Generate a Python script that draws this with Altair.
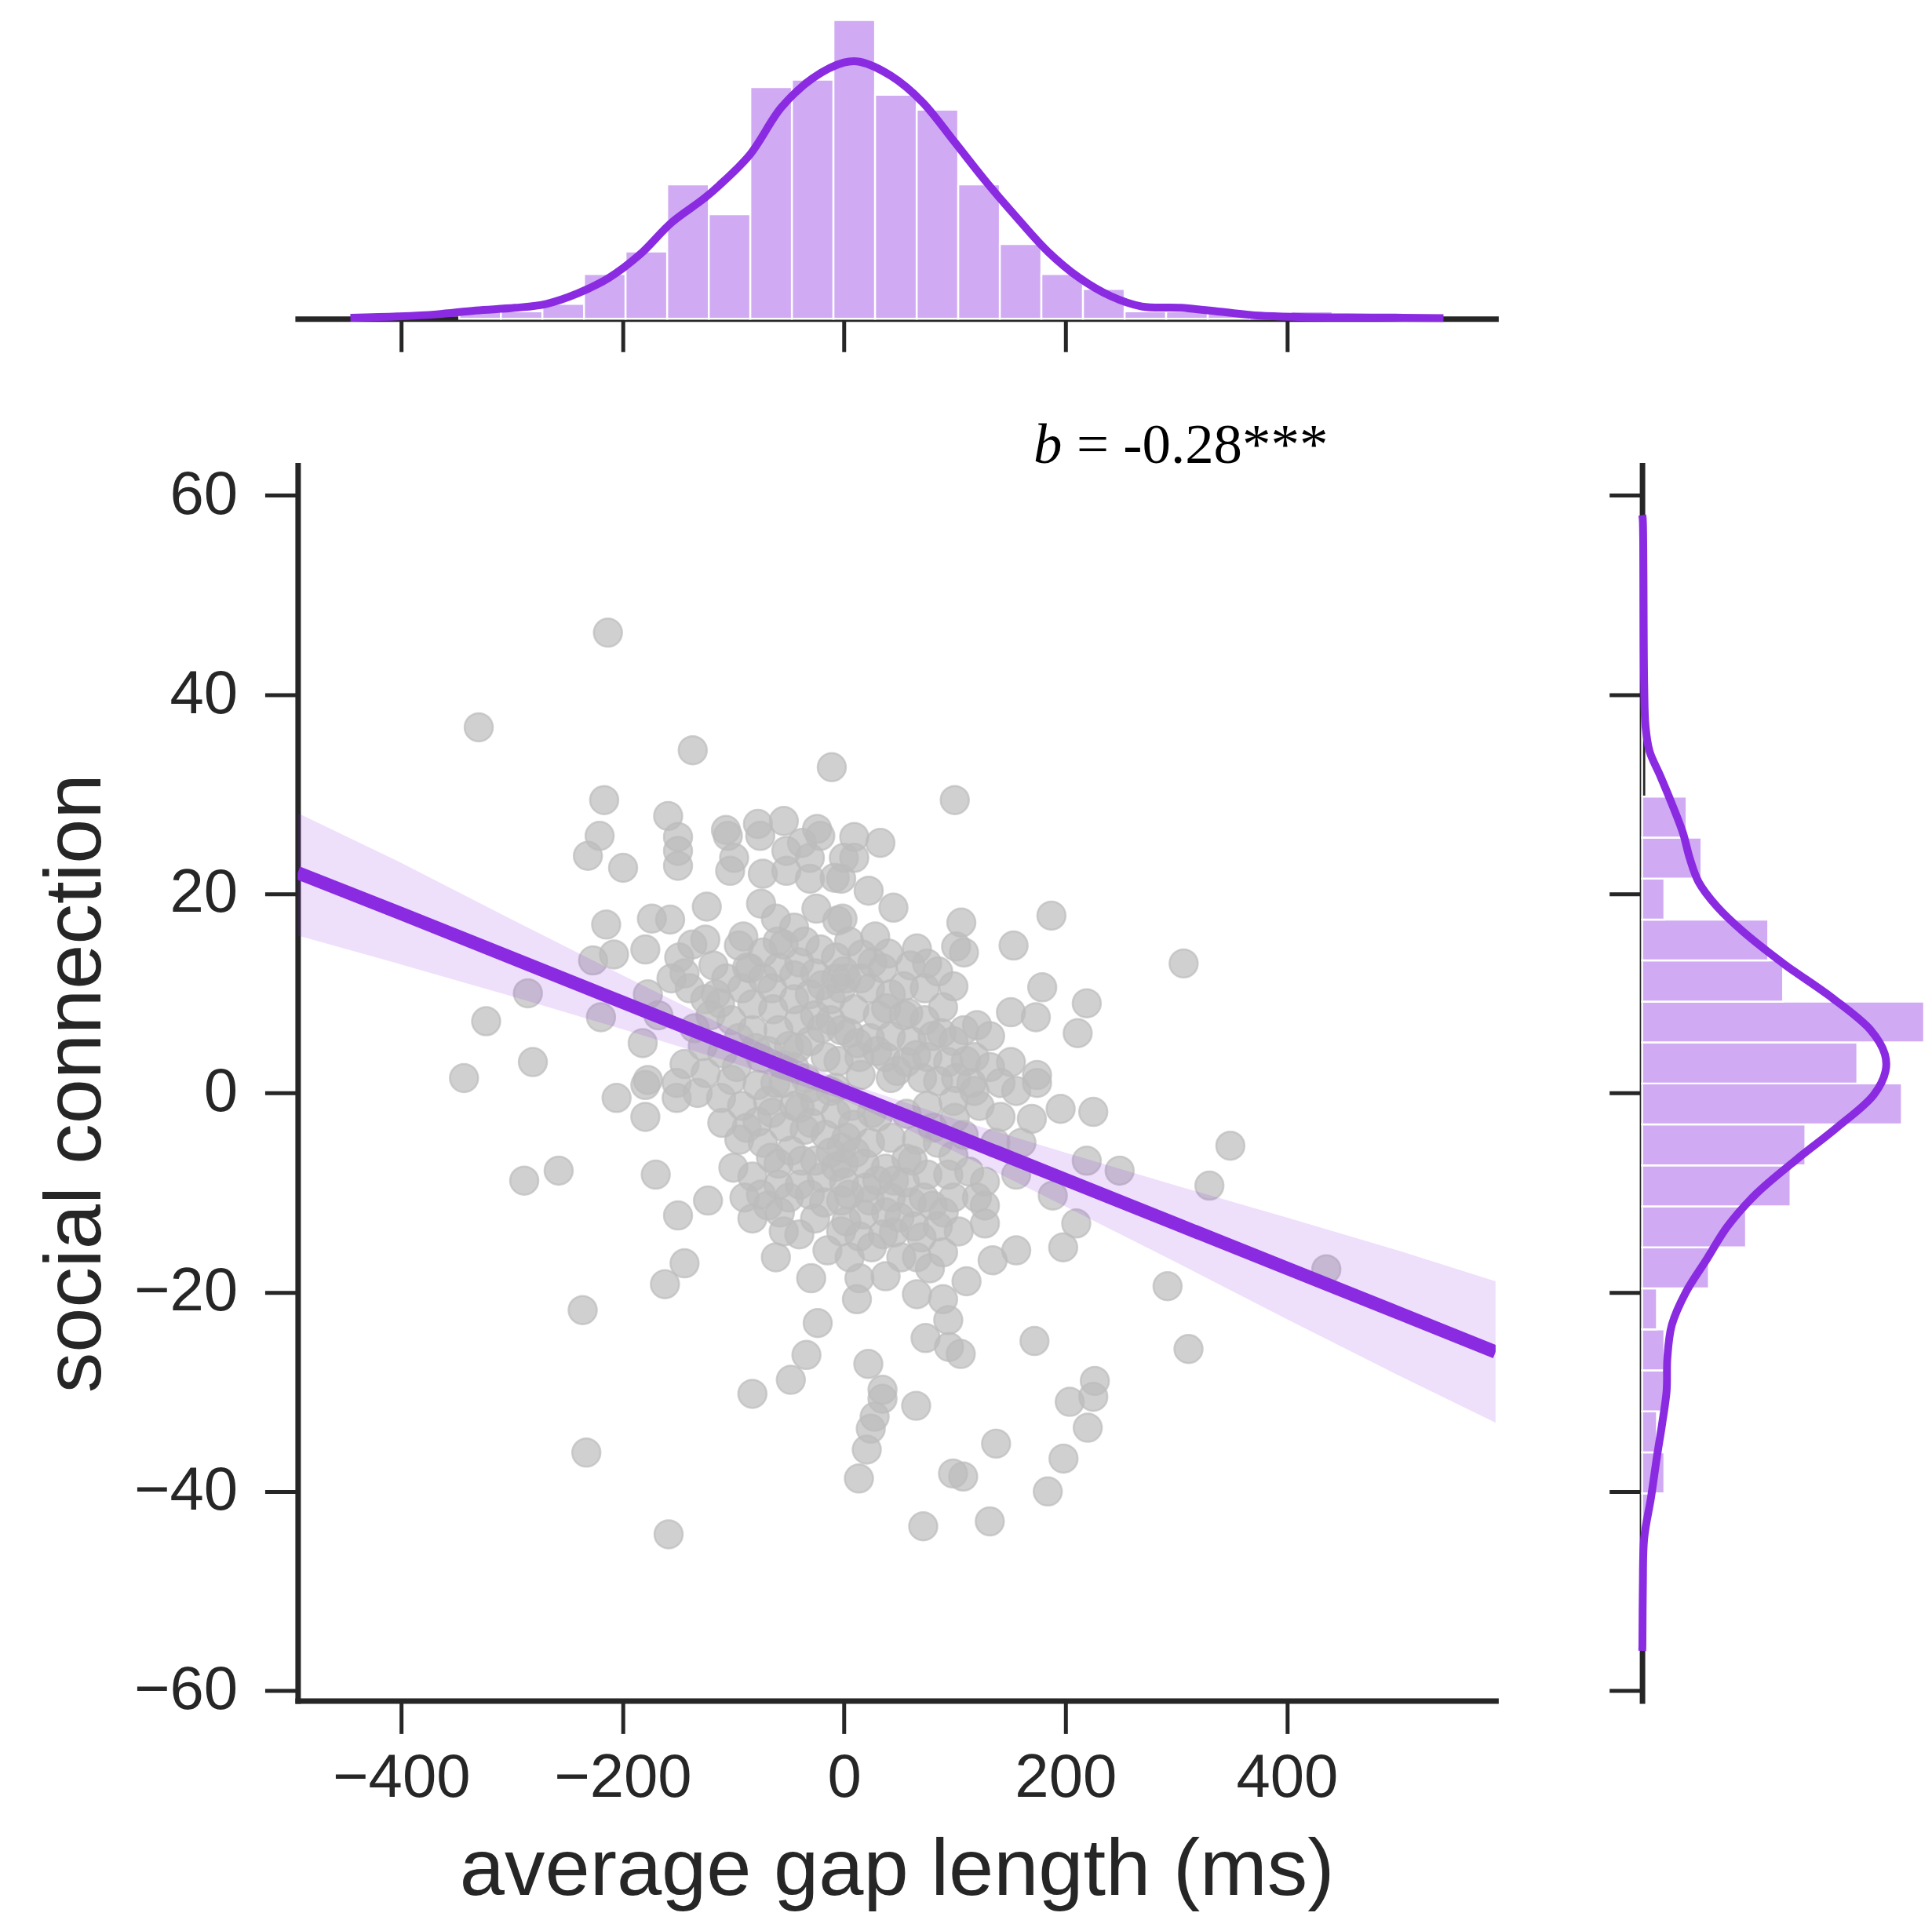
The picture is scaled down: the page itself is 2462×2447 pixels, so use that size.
import altair as alt
import pandas as pd

# ---------------- data ----------------
gap_ms = [
    -231.4, -220.8, -199.6, -150.0, -150.0, -150.0, -105.0, -99.3, -102.9, -75.7, -73.4, -52.1, -52.1,
    -38.0, -30.9, -30.9, -21.5, -8.5, -0.2, -124.0, -214.9, -173.6, -157.1, -91.0, -61.6, -45.1, -6.1,
    -179.5, -207.8, -226.7, -148.9, -125.3, -137.1,
    -144.1, -139.4, -155.9, -106.4, -87.5, -73.4, -54.5, -35.6, -21.5, -7.3, -92.2, -73.4, -59.2, -40.4,
    -26.2, -7.3, -115.8, -125.3, -82.8, -64.0, -45.1, -30.9, -12.1, -2.6, -101.7, -82.8, -59.2, -40.4,
    -26.2, -12.1, -2.6, -68.7, -49.8, -30.9, -16.7, -45.1, -177.2, -219.6, -181.9, -167.7, -144.1,
    -177.2, -97.0, -120.6, -127.6,
    9.2, 32.8, 9.2, -2.6, 22.2, 44.6, 105.9, 187.3, -1.4, 28.1, 65.8, 101.2, 108.3, 153.1, 25.7, 179.0,
    219.2, 150.7, 173.2, 211.0, 98.8, 72.9, 54.0, 89.4, 120.1, 131.9, 150.7, 174.3,
    4.5, 16.3, 2.1, 23.4, 42.2, 9.2, 30.4, 54.0, 72.9, 4.5, 23.4, 42.2, 61.1, 80.0, 98.8, 108.3, 13.9,
    37.5, 56.4, 75.3, 94.1, 117.7, 131.9, 42.2, 70.5, 101.2,
    -205.5, -179.5, -179.5, -151.2, -151.2, -132.3, -111.1, -94.6, -73.4, -82.8, -170.1, -122.9, -150.0,
    -144.1, -161.8, -82.8, -61.6, -29.7, -23.8, -236.1, -54.5, -40.4, -26.2, -68.7, -49.8, -30.9, -59.2,
    -38.0, -26.2, -7.3, -2.6, -2.6, -78.1, -54.5, -35.6, -16.7, -92.2, -68.7, -45.1, -26.2, -7.3, -101.7,
    -78.1, -54.5, -30.9, -12.1, -2.6, -59.2,
    195.6, 225.1, 169.6, 219.2, 188.5, 209.7, 197.9, 155.5, 134.2, 110.6, 94.1, 13.9, 11.6, 37.5, 65.8,
    89.4, 127.2, 127.2, 127.2, 98.8, 61.1, 89.4, 77.6, 65.8, 51.7, 35.2, 13.9, 2.1, 4.5, 23.4, 42.2, 80.0,
    98.8, 103.6, 84.7, 63.5, -0.2, 18.6, 37.5, 56.4, 75.3, 94.1, 113.0, 2.1, 23.4, 42.2, 65.8, 84.7, 6.8,
    30.4, 56.4, 75.3, 98.8, 122.4, 141.3, 155.5, 174.3, 141.3, 117.7, 160.2, 155.5, 136.6,
    -213.3, -330.0, -136.7, -11.1, 100.0, -216.7, -158.9, -77.8, -54.4, -24.4, -106.7,
    -343.3, -323.3, -281.1, -285.6, -288.9, -257.8,
    306.7, 348.9, 330.0, 435.6, 292.2, 311.1, 248.9,
    -232.8, -158.5, -82.8, -48.1, -34.0, 13.4, 20.5, 24.1, 27.6, 34.7, 34.7, 21.9, 65.1, 71.5, 98.4,
    107.6, 131.6, 137.3, 172.0, 184.0, 198.2, 203.8, 220.1, 225.1, 226.5, 73.6, 94.8, 105.4,
    -85.0, -65.0, -45.0, -20.0, 0.0, 15.0, 35.0, 60.0, 85.0,
    -95.0, -75.0, -55.0, -35.0, -20.0, -5.0, 15.0, 30.0, 48.0, 65.0, 85.0, 110.0,
    -88.0, -66.0, -48.0, -30.0, -12.0, 8.0, 25.0, 45.0, 62.0, 80.0, 108.0, 120.0,
    -75.0, -58.0, -40.0, -18.0, 0.0, 18.0, 30.0, 50.0, 70.0, 90.0,
    -15.0, 5.0, 25.0, 45.0, -110.0, -118.0, -95.0, -60.0,
    -110.0, -100.0, -90.0, -65.0, -40.0, -20.0, 10.0, 20.0, 38.0, 55.0, 72.0, 100.0, 115.0, -125.0,
    -135.0, -112.0, -80.0, -62.0, -42.0, -8.0, 12.0, 38.0, 58.0, 88.0, -25.0, -75.0, 40.0, 75.0,
]
social = [
    23.8, 25.8, 22.6, 25.7, 24.3, 22.8, 25.8, 23.6, 22.3, 25.8, 22.0, 24.3, 22.3,
    25.1, 23.6, 21.5, 25.8, 21.6, 23.6, 18.7, 16.9, 17.5, 17.4, 15.7, 17.5, 16.6, 17.3,
    14.4, 13.9, 13.3, 13.6, 15.4, 14.9,
    12.0, 10.5, 11.5, 11.5, 12.6, 14.1, 14.9, 15.2, 14.4, 13.6, 10.5, 11.5, 12.6, 13.1,
    12.0, 11.5, 9.9, 9.4, 8.9, 8.4, 9.4, 9.9, 9.4, 10.5, 7.3, 6.3, 6.3, 7.3,
    7.8, 7.3, 6.3, 4.2, 4.7, 5.2, 3.6, 2.6, 9.9, 7.6, 5.0, 7.8, 2.9,
    1.3, 2.6, 7.8, 4.7,
    25.7, 25.1, 23.6, 21.5, 20.3, 18.6, 17.1, 17.8, 17.5, 15.7, 14.5, 14.7, 14.1, 14.8, 13.1, 10.6,
    9.0, 8.1, 7.6, 6.0, 10.7, 10.5, 10.7, 8.6, 6.8, 5.7, 3.1, 1.8,
    15.2, 13.9, 11.5, 10.5, 9.9, 8.4, 7.8, 7.8, 7.3, 6.0, 5.5, 5.7, 5.2, 5.7, 5.2, 6.3, 3.6,
    3.6, 3.1, 3.6, 3.1, 3.6, 2.6, 1.5, 1.5, 1.5,
    -0.5, 0.8, -2.4, -0.5, 1.0, 0.0, -0.5, -4.7, -5.0, -8.4, -8.2, -10.8, -12.3,
    -17.1, -19.2, -12.6, -16.5, -18.6, -23.1, -21.8, -13.9, -14.2, -12.6, -11.3, -10.5, -10.2, -7.1,
    -6.8, -6.8, -7.4, -10.8, -13.9, -2.9, -3.4, -3.7, -4.2, -1.3, -0.8, -1.3, -0.8, -2.1, 1.3,
    0.8, 1.0, 0.5, 0.2, -5.5, -9.2,
    -1.6, -1.9, -2.6, -6.8, -10.3, -13.1, -15.5, -15.8, -16.8, -18.9, -22.8, -18.6, -20.7, -18.4, -20.2,
    -20.7, -8.9, -11.3, -13.1, -6.3, -11.0, -16.0, -17.6, -16.5, -16.5, -14.2, -14.4, -12.9, -10.2, -10.8, -10.5, -11.3,
    -10.5, -13.9, -13.4, -13.4, -7.1, -7.1, -7.6, -6.6, -8.2, -8.2, -7.9, -4.5, -5.0, -4.5, -4.7, -5.0, -1.3,
    -2.4, -2.1, -1.3, -0.8, -1.3, -2.4, 0.2, 1.0, 1.0, 0.2, -5.0, -8.2, -5.0,
    46.2, 36.7, 34.4, 32.7, 29.4, 29.4, 27.8, 27.0, 27.3, 26.5, 26.4,
    1.5, 7.2, 3.1, 10.0, -8.8, -7.8,
    13.0, -5.3, -9.3, -17.7, -19.4, -25.7, -7.8,
    -36.1, -44.3, -30.2, -28.8, -26.3, -38.7, -35.8, -33.7, -32.5, -30.7, -29.8, -27.2, -31.4, -43.5, -38.2,
    -38.5, -43.0, -35.2, -24.9, -40.0, -36.7, -31.0, -33.6, -30.5, -28.9, -24.6, -25.5, -26.2,
    12.5, 10.5, 11.8, 10.8, 12.2, 11.5, 12.5, 12.8, 12.2,
    5.5, 3.5, 2.8, 1.5, 6.5, 3.2, 1.8, 4.2, 2.2, 3.8, 1.2, 3.2,
    -3.5, -6.5, -5.8, -3.0, -6.0, -3.2, -2.0, -8.8, -6.8, -3.5, -4.2, -10.5,
    -10.2, -12.0, -9.2, -11.0, -9.0, -12.2, -8.8, -12.5, -14.5, -12.0,
    -15.8, -16.5, -15.5, -14.0, 4.0, 12.8, 14.8, 15.2,
    -3.0, -7.5, -10.5, -2.0, -1.5, -8.5, -6.0, -9.5, -12.0, -9.0, -10.5, -2.5, 1.0, 2.0,
    6.5, 9.0, 4.5, 1.0, 4.5, 0.5, 5.0, 8.5, 8.0, 6.0, 18.5, 19.0, 14.0, 13.0,
]

# regression fit and 95% band, read at several x positions
reg_x = [-493.5, -400, -300, -200, -100, 0, 100, 200, 300, 400, 500, 588.5]
reg_fit = [22.1, 18.0, 13.55, 9.1, 4.65, 0.2, -4.25, -8.7, -13.15, -17.6, -22.05, -26.0]
reg_lo = [15.8, 12.9, 9.7, 6.4, 3.0, -0.7, -5.9, -11.4, -17.0, -22.7, -28.3, -33.1]
reg_hi = [28.1, 23.1, 17.4, 11.8, 6.3, 1.1, -2.6, -6.0, -9.3, -12.5, -15.8, -18.9]

# top marginal histogram (gap length) and KDE
top_edges = [-347.6, -310.0, -272.5, -234.9, -197.4, -159.8, -122.2, -84.7, -47.1, -9.6, 28.0,
             65.6, 103.1, 140.7, 178.2, 215.8, 253.4, 290.9, 328.5, 366.0, 403.6, 441.2]
top_counts = [1, 1, 2, 6, 9, 18, 14, 31, 32, 40, 30, 28, 18, 10, 6, 4, 1, 1, 1, 0, 1]
top_kde_x = [-445.9, -403.4, -368.0, -332.6, -297.2, -268.9, -240.6, -212.3, -184.0, -155.7, -127.4,
             -113.2, -84.9, -56.6, -28.3, 0.0, 14.2, 42.5, 70.8, 99.1, 127.4, 155.7, 184.0, 212.3,
             240.6, 268.9, 304.3, 339.7, 375.1, 410.5, 481.2, 541.4]
top_kde_h = [0.14, 0.32, 0.6, 1.12, 1.47, 2.0, 3.4, 5.5, 8.67, 12.9, 16.0, 17.8, 22.0, 28.3, 32.2,
             34.3, 34.4, 32.5, 29.0, 23.8, 18.5, 13.6, 9.0, 5.5, 3.05, 1.65, 1.47, 0.95, 0.42, 0.25,
             0.18, 0.1]

# right marginal histogram (social connection) and KDE
right_edges = [-44.3, -40.19, -36.07, -31.96, -27.84, -23.73, -19.62, -15.5, -11.39, -7.27, -3.16,
               0.95, 5.07, 9.18, 13.3, 17.41, 21.52, 25.64, 29.75, 33.87, 37.98, 42.09, 46.2]
right_counts = [1, 3, 2, 3, 3, 2, 9, 14, 20, 22, 35, 29, 38, 19, 17, 3, 8, 6, 0, 0, 0, 0]
right_kde_y = [58.0, 57.4, 40.9, 36.8, 34.3, 31.9, 29.4, 26.1, 23.6, 21.2, 18.7, 16.2, 12.9, 9.6, 6.3,
               3.9, 2.2, -0.2, -3.5, -6.8, -10.1, -13.4, -16.7, -20.0, -23.3, -26.6, -29.9, -33.2,
               -36.5, -40.6, -44.7, -49.6, -55.4, -56.0]
right_kde_w = [0.03, 0.1, 0.28, 0.46, 1.0, 2.4, 3.8, 5.5, 6.4, 7.6, 10.1, 13.6, 19.2, 25.5, 30.8, 32.7,
               32.8, 31.2, 26.2, 20.6, 15.4, 11.5, 8.7, 5.9, 4.0, 3.4, 3.3, 2.7, 2.0, 1.2, 0.28, 0.1,
               0.04, 0.02]

annot_text = ["b", "= -0.28***"]
annot_x = [171, 210]

x_ticks = [-400, -200, 0, 200, 400]
y_ticks = [-60, -40, -20, 0, 20, 40, 60]

# ---------------- styling ----------------
X_DOM = [-493.5, 588.5]
Y_DOM = [-61.0, 63.0]
PURPLE = "#8a2be2"
BAR = "#d0aaf3"
DOT = "#bcbcbc"
INK = "#262626"
SANS = "Liberation Sans"
SERIF = "Liberation Serif"

MAIN_W, MAIN_H = 1529, 1577
TOP_H = 393
RIGHT_W = 360

pts = pd.DataFrame({"gap": gap_ms, "soc": social})
reg = pd.DataFrame({"gap": reg_x, "fit": reg_fit, "lo": reg_lo, "hi": reg_hi})
top_hist = pd.DataFrame({"start": top_edges[:-1], "end": top_edges[1:], "count": top_counts,
                         "zero": [0] * len(top_counts)})
top_kde = pd.DataFrame({"gap": top_kde_x, "h": top_kde_h})
right_hist = pd.DataFrame({"start": right_edges[:-1], "end": right_edges[1:], "count": right_counts,
                           "zero": [0] * len(right_counts)})
right_kde = pd.DataFrame({"soc": right_kde_y, "w": right_kde_w})

xs = alt.Scale(domain=X_DOM, nice=False, zero=False)
ys = alt.Scale(domain=Y_DOM, nice=False, zero=False)

XT = "average gap length (ms)"
YT = "social connection"
x_axis_main = alt.Axis(values=x_ticks, title=XT, labelPadding=18, titlePadding=28)
y_axis_main = alt.Axis(values=y_ticks, title=YT, labelPadding=35, titlePadding=30)

points = alt.Chart(pts).mark_circle(
    size=1300, fill=DOT, fillOpacity=0.7, stroke=DOT, strokeOpacity=0.7, strokeWidth=2.5
).encode(
    x=alt.X("gap:Q", scale=xs, axis=x_axis_main, title=XT),
    y=alt.Y("soc:Q", scale=ys, axis=y_axis_main, title=YT),
)
band = alt.Chart(reg).mark_area(color=PURPLE, opacity=0.15, clip=True).encode(
    x=alt.X("gap:Q", scale=xs, title=XT),
    y=alt.Y("lo:Q", scale=ys, title=YT),
    y2="hi:Q",
)
line = alt.Chart(reg).mark_line(color=PURPLE, strokeWidth=17, strokeCap="butt", clip=True).encode(
    x=alt.X("gap:Q", scale=xs, title=XT),
    y=alt.Y("fit:Q", scale=ys, title=YT),
)
tb = alt.Chart(pd.DataFrame({"t": [annot_text[0]]})).mark_text(
    font=SERIF, fontStyle="italic", fontSize=73, align="left", baseline="alphabetic", color="black", dy=-3
).encode(x=alt.datum(annot_x[0]), y=alt.datum(Y_DOM[1]), text="t:N")
tr = alt.Chart(pd.DataFrame({"t": [annot_text[1]]})).mark_text(
    font=SERIF, fontSize=73, align="left", baseline="alphabetic", color="black", dy=-3
).encode(x=alt.datum(annot_x[1]), y=alt.datum(Y_DOM[1]), text="t:N")

main = alt.layer(points, band, line, tb, tr).properties(width=MAIN_W, height=MAIN_H)

top_y = alt.Scale(domain=[0, 41.2], nice=False, zero=True)
top_axis = alt.Axis(values=x_ticks, labels=False, title=None)
top_bars = alt.Chart(top_hist).mark_rect(fill=BAR, stroke="white", strokeWidth=2.5).encode(
    x=alt.X("start:Q", scale=xs, axis=top_axis),
    x2="end:Q",
    y=alt.Y("count:Q", scale=top_y, axis=None),
    y2="zero:Q",
)
top_line = alt.Chart(top_kde).mark_line(color=PURPLE, strokeWidth=10, interpolate="catmull-rom").encode(
    x=alt.X("gap:Q", scale=xs, axis=top_axis),
    y=alt.Y("h:Q", scale=top_y, axis=None),
)
top = alt.layer(top_bars, top_line).properties(width=MAIN_W, height=TOP_H)

right_x = alt.Scale(domain=[0, 38.0], nice=False, zero=True)
right_axis = alt.Axis(values=y_ticks, labels=False, title=None)
right_bars = alt.Chart(right_hist).mark_rect(fill=BAR, stroke="white", strokeWidth=2.5).encode(
    y=alt.Y("start:Q", scale=ys, axis=right_axis),
    y2="end:Q",
    x=alt.X("count:Q", scale=right_x, axis=None),
    x2="zero:Q",
)
right_line = alt.Chart(right_kde).mark_line(color=PURPLE, strokeWidth=10, interpolate="catmull-rom").encode(
    y=alt.Y("soc:Q", scale=ys, axis=right_axis),
    x=alt.X("w:Q", scale=right_x, axis=None),
    order=alt.Order("soc:Q"),
)
right = alt.layer(right_bars, right_line).properties(width=RIGHT_W, height=MAIN_H)

blank = alt.Chart(pd.DataFrame({"v": [0]})).mark_point(opacity=0).properties(width=RIGHT_W, height=TOP_H)

chart = alt.concat(
    top, blank, main, right, columns=2, spacing=187, bounds="flush", align="each"
).properties(
    padding={"left": 38, "top": 4, "right": 0, "bottom": 0}
).configure_axis(
    grid=False,
    domainColor=INK, domainWidth=7, domainCap="square",
    tickColor=INK, tickWidth=5, tickSize=42,
    labelFont=SANS, labelFontSize=78, labelColor=INK,
    titleFont=SANS, titleFontSize=103, titleFontWeight="normal", titleColor=INK,
).configure_view(stroke=None)

chart.save("out.html", embed_options={"renderer": "svg", "actions": False})
